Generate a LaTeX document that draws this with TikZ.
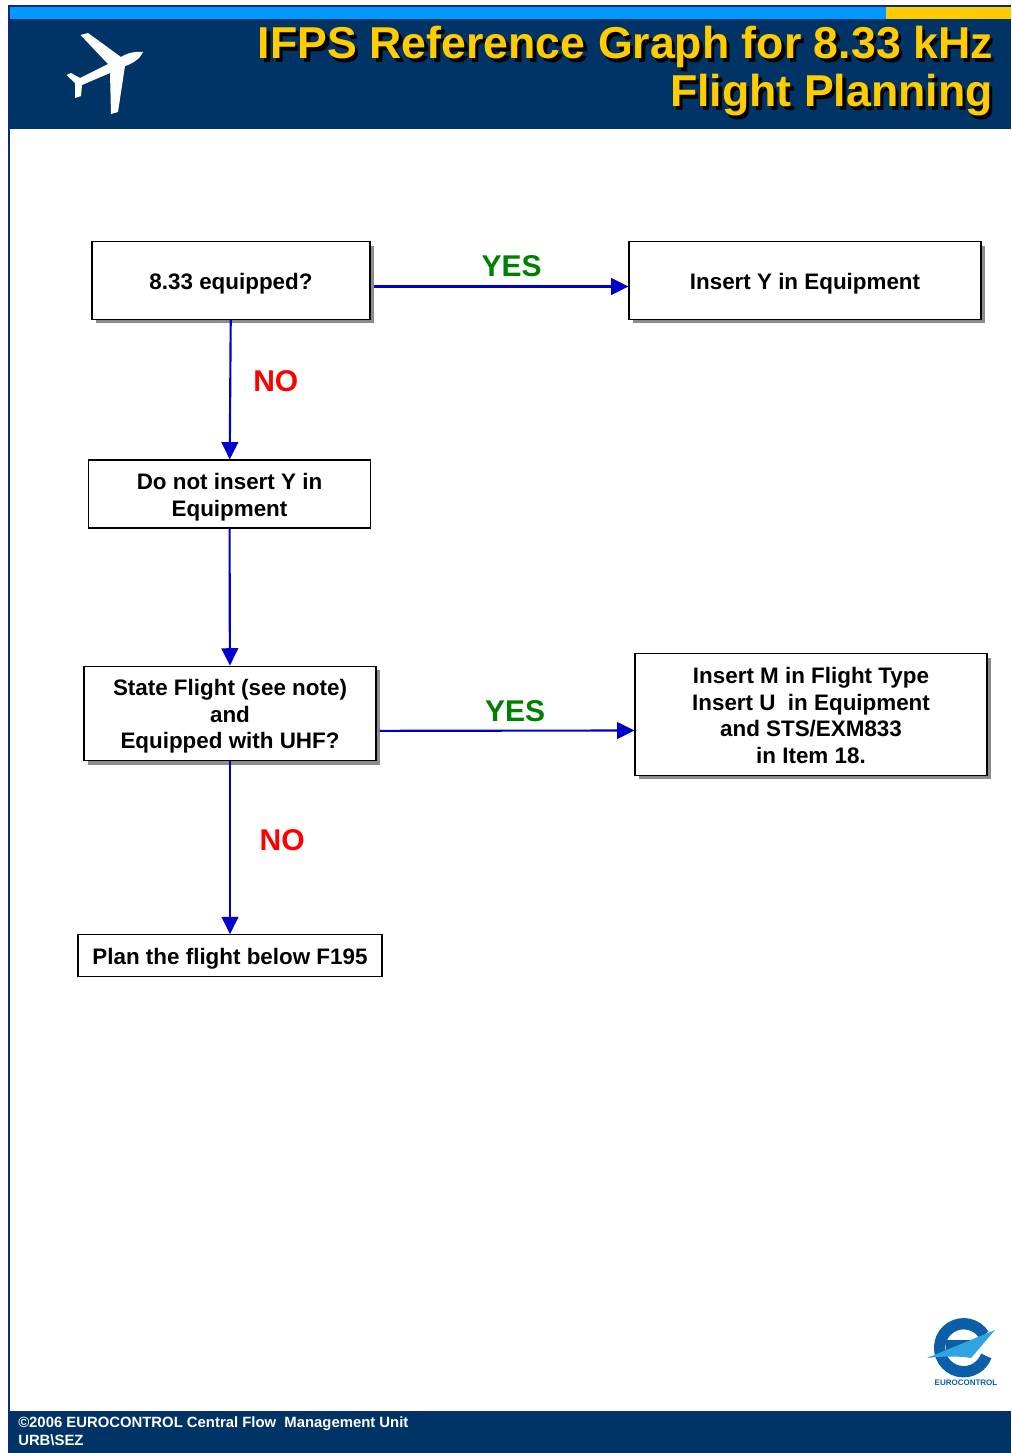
\documentclass[tikz,border=0pt]{standalone}
\usepackage{fontspec}
\setmainfont{Liberation Sans}
\usetikzlibrary{arrows.meta,shadows}
\definecolor{headblue}{HTML}{003366}
\definecolor{framenavy}{HTML}{0A2A7A}
\definecolor{barblue}{HTML}{0099FF}
\definecolor{baryellow}{HTML}{FFCC00}
\definecolor{arrowblue}{HTML}{0000CC}
\definecolor{yesgreen}{HTML}{008000}
\definecolor{logoblue}{HTML}{0B5FA8}
\definecolor{wingblue}{HTML}{2FA4E0}
\tikzset{
	flowbox/.style={draw, fill=white, line width=0.9pt, inner sep=0pt, align=center, font=\fontsize{16.8}{20}\selectfont\bfseries},
	lowered/.style={execute at begin node={\rule{0pt}{#1}}},
	lowered/.default=16.7pt,
	shadowed/.style={drop shadow={shadow xshift=3pt, shadow yshift=-3pt, fill=black!45, opacity=1}},
	flowarrow/.style={draw=arrowblue, line width=1.6pt, -{Triangle[length=13pt,width=12.5pt,fill=arrowblue]}},
	answer/.style={font=\fontsize{22.5}{26}\selectfont\bfseries, inner sep=0pt},
	titletext/.style={anchor=north east, align=right, inner sep=0pt, font=\fontsize{33.5}{36}\selectfont\bfseries},
}

\begin{document}
\begin{tikzpicture}[x=0.75pt, y=-0.75pt]
		\useasboundingbox (0,0) rectangle (1011,1453);
		% page frame and bands
		\fill[framenavy] (8,5) rectangle (1011,1453);
		\fill[white] (10,129) rectangle (1011,1411);
		\fill[headblue] (10,19) rectangle (1011,129);
		\fill[barblue] (10,7) rectangle (886,19);
		\fill[baryellow] (886,7) rectangle (1011,19);
		\fill[headblue] (10,1412) rectangle (1011,1453);
		% plane
		\fill[white] (143,52) .. controls (136,51) and (127,53) .. (121,57) -- (88,33) -- (80.5,35) -- (108,64) -- (80,78) -- (71,73) -- (66.5,75) -- (75,83) -- (75,98) -- (81,96) -- (82,85) -- (110,73) -- (111,114) -- (118,112) -- (125,66) .. controls (132,64) and (140,59) .. (143,52) -- cycle;
		% title
		\node[titletext, text=black] (titleshadow) at (996.5,29.5) {IFPS Reference Graph for 8.33 kHz\\Flight Planning};
		\node[titletext, text=baryellow] (title) at (993,26) {IFPS Reference Graph for 8.33 kHz\\Flight Planning};
		% boxes
		\node[flowbox, lowered, shadowed, minimum width=208.5pt, minimum height=58pt] (equipped) at (231,280.5) {8.33 equipped?};
		\node[flowbox, lowered, shadowed, minimum width=264pt, minimum height=58pt] (inserty) at (805,280.5) {Insert Y in Equipment};
		\node[flowbox, lowered=36.7pt, minimum width=212pt, minimum height=51pt] (donot) at (229.5,494) {Do not insert Y in\\Equipment};
		\node[flowbox, lowered=56.7pt, shadowed, minimum width=219pt, minimum height=71pt] (state) at (230,713.5) {State Flight (see note)\\and\\Equipped with UHF?};
		\node[flowbox, lowered=73.7pt, shadowed, minimum width=264pt, minimum height=91pt] (insertm) at (811,714.5) {Insert M in Flight Type\\Insert U\ \ in Equipment\\and STS/EXM833\\in Item 18.};
		\node[flowbox, lowered, minimum width=228pt, minimum height=31pt] (plan) at (230,955.5) {Plan the flight below F195};
		% connectors
		\draw[flowarrow] ([xshift=2.2pt,yshift=-4.5pt]equipped.east) to node [above=6.7pt, answer, text=yesgreen, xshift=8pt] {YES} ([yshift=-4.5pt]inserty.west);
		\draw[flowarrow] (equipped) to node [right=16.5pt, answer, text=red, yshift=6pt] {NO} (donot);
		\draw[flowarrow] (donot) to (state);
		\draw[flowarrow] ([xshift=2.2pt,yshift=-13pt]state.east) to node [above=6pt, answer, text=yesgreen, xshift=6.2pt] {YES} ([yshift=-12pt]insertm.west);
		\draw[flowarrow] (state) to node [right=21.5pt, answer, text=red, yshift=6pt] {NO} (plan);
		% logo
		\draw[logoblue, line width=8.5pt] (984,1335) arc[start angle=32, end angle=340, radius=18pt];
		\fill[logoblue] (946,1340) -- (976,1340) -- (976,1345) -- (946,1352) -- cycle;
		\fill[wingblue] (927,1358) -- (995,1330) -- (971,1358) .. controls (960,1356) and (945,1356) .. (927,1358) -- cycle;
		\node[text=logoblue, inner sep=0pt, font=\fontsize{6}{7}\selectfont\bfseries] (logotext) at (966,1383) {EUROCONTROL};
		% footer
		\node[anchor=north west, align=left, inner sep=0pt, text=white, font=\fontsize{11.15}{13.5}\selectfont\bfseries] (footer) at (18,1416.5) {©2006 EUROCONTROL Central Flow\ \ Management Unit\\URB\textbackslash SEZ};
	\end{tikzpicture}
\end{document}
